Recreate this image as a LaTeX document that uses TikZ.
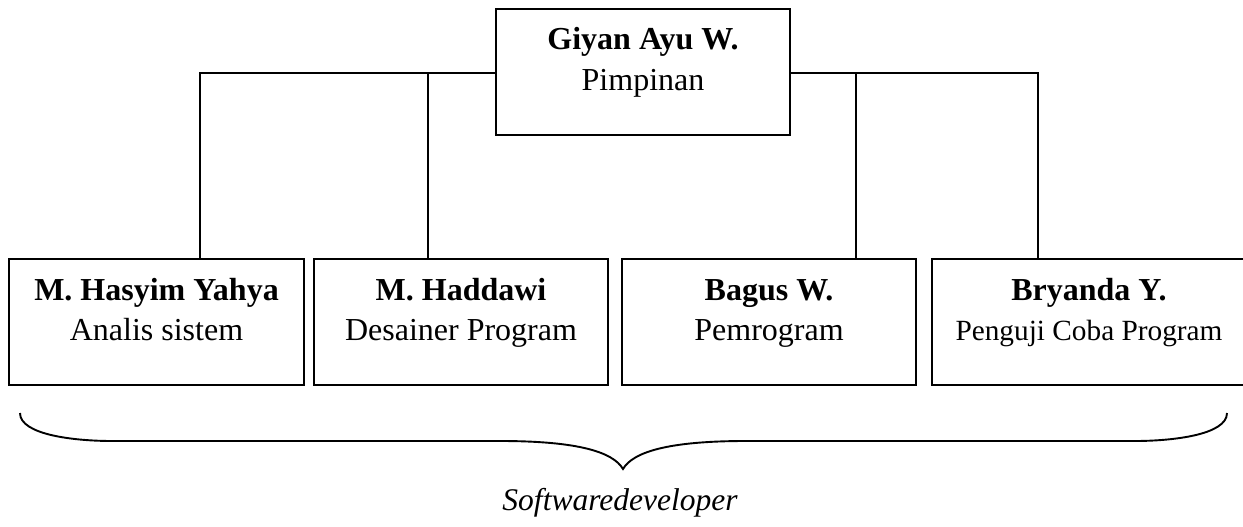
\documentclass[tikz,border=0pt]{standalone}
\usepackage{fontspec}
\setmainfont{Liberation Serif}
\begin{document}
\begin{tikzpicture}[x=1pt,y=-1pt,
  box/.style={draw, line width=2.1pt, inner sep=0pt, minimum height=126pt},
  conn/.style={draw, line width=1.9pt},
  bracestyle/.style={draw, line width=1.9pt},
  nametext/.style={anchor=base, inner sep=0pt, font=\fontsize{32}{38}\selectfont\bfseries},
  roletext/.style={anchor=base, inner sep=0pt, font=\fontsize{32}{38}\selectfont},
  smallrole/.style={anchor=base, inner sep=0pt, font=\fontsize{29.3}{35}\selectfont}]
\useasboundingbox (0,0) rectangle (1243,527);
\fill[white] (0,0) rectangle (1243,527);

% boxes
\node[box, minimum width=294pt] (top) at (643,72) {};
\node[box, minimum width=295pt] (b1) at (156.5,322) {};
\node[box, minimum width=294pt] (b2) at (461,322) {};
\node[box, minimum width=294pt] (b3) at (769,322) {};
\node[box, minimum width=314pt] (b4) at (1089,322) {};

% texts
\node[nametext] (t0a) at (643,50) {Giyan Ayu W.};
\node[roletext] (t0b) at (643,91) {Pimpinan};
\node[nametext] (t1a) at (156.5,300) {M. Hasyim Yahya};
\node[roletext] (t1b) at (156.5,340) {Analis sistem};
\node[nametext] (t2a) at (461,300) {M. Haddawi};
\node[roletext] (t2b) at (461,340) {Desainer Program};
\node[nametext] (t3a) at (769,300) {Bagus W.};
\node[roletext] (t3b) at (769,340) {Pemrogram};
\node[nametext] (t4a) at (1089,300) {Bryanda Y.};
\node[smallrole] (t4b) at (1089,340) {Penguji Coba Program};

% connectors
\coordinate (jl1) at (200,73);
\coordinate (jl2) at (428,73);
\coordinate (jr1) at (856,73);
\coordinate (jr2) at (1038,73);
\draw[conn] (top.west |- jl1) -- (jl1) -- (jl1 |- b1.north);
\draw[conn] (jl2) -- (jl2 |- b2.north);
\draw[conn] (top.east |- jr2) -- (jr2) -- (jr2 |- b4.north);
\draw[conn] (jr1) -- (jr1 |- b3.north);

% brace
\coordinate (bl) at (20,413);
\coordinate (br) at (1227,413);
\coordinate (tip) at (623,469);
\draw[bracestyle] (bl) .. controls (20,435) and (75,441) .. (112,441)
  -- (500,441) .. controls (578,441) and (613,452) .. (tip)
  .. controls (633,452) and (668,441) .. (746,441)
  -- (1135,441) .. controls (1172,441) and (1227,435) .. (br);

\node[anchor=base, inner sep=0pt, font=\fontsize{31.5}{38}\selectfont\itshape] (sd) at (620,510) {Softwaredeveloper};
\end{tikzpicture}
\end{document}
